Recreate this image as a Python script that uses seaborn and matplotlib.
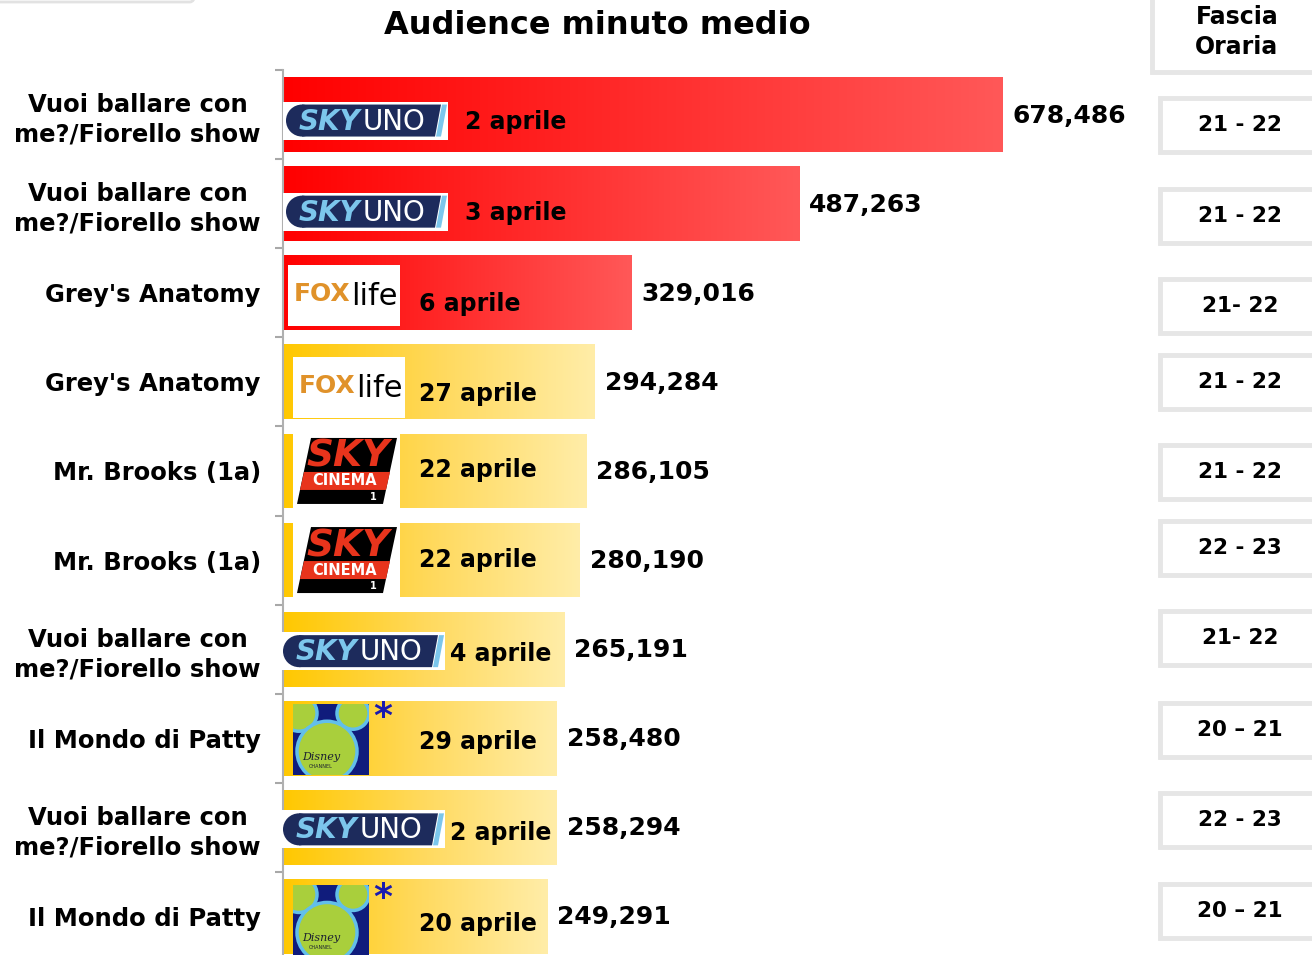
import numpy as np
import pandas as pd
import matplotlib
matplotlib.use('Agg')
import matplotlib.pyplot as plt
import seaborn as sns
from matplotlib.colors import LinearSegmentedColormap
from matplotlib.patches import Rectangle, Polygon, Circle, FancyBboxPatch

# ============================================================
# Data
# ============================================================
programmi = [
    'Vuoi ballare con\nme?/Fiorello show',
    'Vuoi ballare con\nme?/Fiorello show',
    "Grey's Anatomy",
    "Grey's Anatomy",
    'Mr. Brooks (1a)',
    'Mr. Brooks (1a)',
    'Vuoi ballare con\nme?/Fiorello show',
    'Il Mondo di Patty',
    'Vuoi ballare con\nme?/Fiorello show',
    'Il Mondo di Patty',
]
audience = [678486, 487263, 329016, 294284, 286105, 280190, 265191, 258480, 258294, 249291]
date = ['2 aprile', '3 aprile', '6 aprile', '27 aprile', '22 aprile',
        '22 aprile', '4 aprile', '29 aprile', '2 aprile', '20 aprile']
canali = ['skyuno', 'skyuno', 'foxlife', 'foxlife', 'skycinema',
          'skycinema', 'skyuno', 'disney', 'skyuno', 'disney']
fasce = ['21 - 22', '21 - 22', '21- 22', '21 - 22', '21 - 22',
         '22 - 23', '21- 22', '20 \u2013 21', '22 - 23', '20 \u2013 21']
gruppo = ['top'] * 3 + ['altri'] * 7

# ============================================================
# Layout (pixels)
# ============================================================
W, H = 1312, 955
DATE_DX = [182, 182, 136, 136, 136, 136, 167, 136, 167, 136]
DATE_DY = [7, 9, 11, 12, -1, 0, 5, 4, 6, 8]
LOGO_DY = [6, 8, 2, 5, 0, 0, 2, 1, 2, 4]
LOGO_DX = [0, 0, 5, 10, 10, 10, -3, 10, -3, 10]
FASCIA_Y = [125, 216, 306, 382, 472, 548, 638, 730, 820, 911]

df = pd.DataFrame({
    'pos': [str(i) for i in range(len(audience))],
    'audience': audience,
    'gruppo': gruppo,
})

sns.set_theme(style='white')
plt.rcParams['font.family'] = ['DejaVu Sans']
plt.rcParams['text.color'] = 'black'
plt.rcParams['ytick.color'] = 'black'

fig = plt.figure(figsize=(W / 100, H / 100), dpi=100)
ax = fig.add_axes([283 / W, 1 - 961 / H, (1143 - 283) / W, (961 - 70) / H])

sns.barplot(data=df, x='audience', y='pos', hue='gruppo', dodge=False,
            palette={'top': '#FF2020', 'altri': '#FFD550'}, width=0.84,
            legend=False, ax=ax, saturation=1)

ylim = (len(audience) - 0.5, -0.5)

# gradient fills on the bars
cmap_red = LinearSegmentedColormap.from_list('red', ['#FF0000', '#FF2C2C', '#FF5858'])
cmap_yel = LinearSegmentedColormap.from_list('yel', ['#FFC800', '#FFD95C', '#FFEDA8'])
grad = np.linspace(0, 1, 256).reshape(1, -1)

bars = {}
for p in ax.patches:
    if p.get_width() <= 0:
        continue
    i = int(round(p.get_y() + p.get_height() / 2))
    bars[i] = p

shift = matplotlib.transforms.ScaledTranslation(10 / 100, -1 / 100, fig.dpi_scale_trans)
for i, p in bars.items():
    x0, y0, w, h = p.get_x(), p.get_y(), p.get_width(), p.get_height()
    cm = cmap_red if gruppo[i] == 'top' else cmap_yel
    im = ax.imshow(grad, extent=[x0, x0 + w, y0 + h, y0], aspect='auto',
                   cmap=cm, interpolation='bicubic', zorder=p.get_zorder() + 0.1)
    im.set_clip_path(p)
    ax.text(x0 + w, i, f'{audience[i]:,}', ha='left', va='center',
            fontsize=18, fontweight='bold', color='black',
            transform=ax.transData + shift)

ax.set_xlim(0, 811500)
ax.set_ylim(*ylim)

ax.set_yticks(range(len(programmi)))
ax.set_yticklabels(programmi, fontsize=17.5, fontweight='bold', color='black',
                   multialignment='center', linespacing=1.3)
ax.set_yticks(np.arange(-0.5, len(programmi), 1), minor=True)
ax.tick_params(axis='y', which='major', length=0, pad=16)
ax.tick_params(axis='y', which='minor', length=6, width=1.5, color='#A8A8A8', left=True)
ax.set_xticks([])
ax.set_xlabel('')
ax.set_ylabel('')
for s in ['top', 'right', 'bottom']:
    ax.spines[s].set_visible(False)
ax.spines['left'].set_color('#B0B0B0')
ax.spines['left'].set_linewidth(1.5)

fig.text(597 / W, 1 - 26 / H, 'Audience minuto medio', ha='center', va='center',
         fontsize=23, fontweight='bold', color='black')

# ============================================================
# Overlay in pixel coordinates: logos, dates, fascia oraria
# ============================================================
ov = fig.add_axes([0, 0, 1, 1], zorder=5)
ov.set_xlim(0, W)
ov.set_ylim(H, 0)
ov.axis('off')
ov.patch.set_alpha(0)


def to_px(xd, yd):
    xd_, yd_ = ax.transData.transform((xd, yd))
    return xd_, H - yd_


def logo_skyuno(x, yc):
    ov.add_patch(Rectangle((x, yc - 19), 165, 38, fc='white', ec='none'))
    ov.add_patch(Circle((x + 19, yc), 16, fc='#1D2B5C', ec='none'))
    ov.add_patch(Polygon([(x + 19, yc - 16), (x + 158, yc - 16), (x + 152, yc + 16), (x + 19, yc + 16)],
                         closed=True, fc='#1D2B5C', ec='none'))
    ov.add_patch(Polygon([(x + 153, yc + 16), (x + 158, yc + 16), (x + 164, yc - 16), (x + 159, yc - 16)],
                         closed=True, fc='#7CC6EC', ec='none'))
    ov.text(x + 16, yc + 1, 'SKY', color='#7CC6EC', fontsize=20, fontweight='bold',
            fontstyle='italic', ha='left', va='center')
    ov.text(x + 80, yc + 1, 'UNO', color='white', fontsize=20, fontweight='normal',
            ha='left', va='center')


def logo_foxlife(x, yc):
    ov.add_patch(Rectangle((x, yc - 30), 112, 61, fc='white', ec='none'))
    ov.text(x + 6, yc - 1, 'FOX', color='#E0922A', fontsize=18, fontweight='bold',
            ha='left', va='center')
    ov.text(x + 63, yc + 2, 'life', color='black', fontsize=22,
            ha='left', va='center')


def logo_skycinema(x, yc):
    ov.add_patch(Rectangle((x, yc - 38), 107, 76, fc='white', ec='none'))
    ov.add_patch(Polygon([(x + 4, yc + 33), (x + 90, yc + 33), (x + 104, yc - 33), (x + 18, yc - 33)],
                         closed=True, fc='black', ec='none'))
    ov.add_patch(Polygon([(x + 7, yc + 19), (x + 93, yc + 19), (x + 97, yc + 1), (x + 11, yc + 1)],
                         closed=True, fc='#E8341C', ec='none'))
    ov.text(x + 55, yc - 14, 'SKY', color='#E8341C', fontsize=27, fontweight='bold',
            fontstyle='italic', ha='center', va='center')
    ov.text(x + 52, yc + 10, 'CINEMA', color='white', fontsize=10.5, fontweight='bold',
            ha='center', va='center')
    ov.text(x + 80, yc + 26, '1', color='white', fontsize=7, fontweight='bold',
            ha='center', va='center')


def logo_disney(x, yc):
    sq = Rectangle((x, yc - 35), 76, 71, fc='#101C7C', ec='none')
    ov.add_patch(sq)
    for cx, cy, r in [(x + 6, yc - 26, 18), (x + 60, yc - 26, 16), (x + 34, yc + 12, 30)]:
        c = Circle((cx, cy), r, fc='#A9CF3C', ec='#62BFEA', lw=2.5)
        ov.add_patch(c)
        c.set_clip_path(sq)
    ov.text(x + 28, yc + 18, 'Disney', color='#1B2030', fontsize=8, fontstyle='italic',
            ha='center', va='center', family=['DejaVu Serif'])
    ov.text(x + 28, yc + 27, 'CHANNEL', color='#1B2030', fontsize=3.5, ha='center', va='center')
    ov.text(x + 90, yc - 22, '*', color='#1A1AB0', fontsize=26, fontweight='bold',
            ha='center', va='center')


logo_fn = {'skyuno': logo_skyuno, 'foxlife': logo_foxlife,
           'skycinema': logo_skycinema, 'disney': logo_disney}

for i in range(len(audience)):
    xl, yc = to_px(0, i)
    logo_fn[canali[i]](xl + LOGO_DX[i], yc + LOGO_DY[i])
    ov.text(xl + DATE_DX[i], yc + DATE_DY[i], date[i], ha='left', va='center',
            fontsize=17, fontweight='bold', color='black')

# faint box top-left
ov.add_patch(FancyBboxPatch((-60, -40), 258, 42, boxstyle='round,pad=0,rounding_size=8',
                            fc='none', ec='#E2E2E2', lw=2, clip_on=False))

# fascia oraria
ov.add_patch(Rectangle((1152, -4), 180, 76, fc='white', ec='#E6E6E6', lw=3.5, clip_on=False))
ov.text(1237, 32, 'Fascia\nOraria', ha='center', va='center', fontsize=17,
        fontweight='bold', linespacing=1.3, color='black')
for yc, f in zip(FASCIA_Y, fasce):
    ov.add_patch(Rectangle((1160, yc - 27), 180, 54, fc='white', ec='#E6E6E6', lw=3.5, clip_on=False))
    ov.text(1240, yc, f, ha='center', va='center', fontsize=15.5, fontweight='bold', color='black')

plt.savefig('out.png', dpi=100)
plt.close()
